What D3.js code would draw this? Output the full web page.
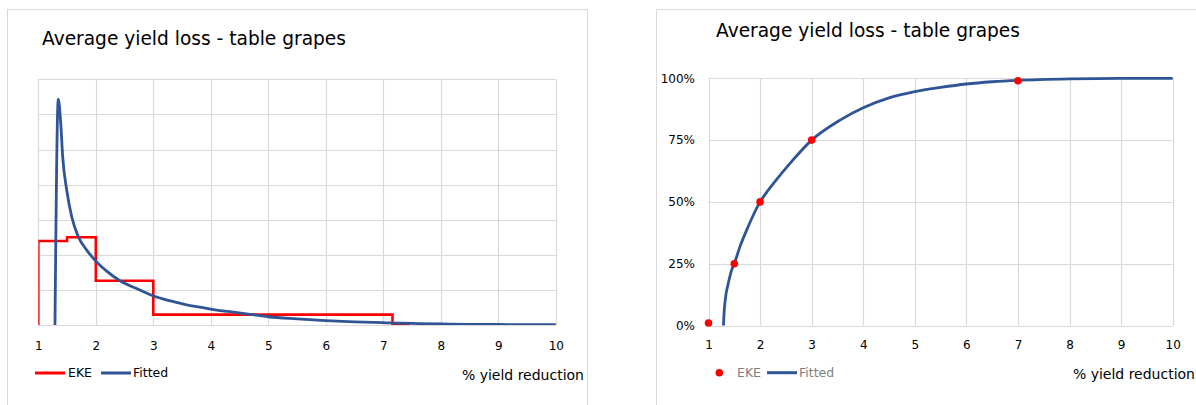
<!DOCTYPE html>
<html>
<head>
<meta charset="utf-8">
<script src="https://cdn.jsdelivr.net/npm/d3@7"></script>
<style>
  html, body { margin: 0; padding: 0; background: #ffffff; }
  svg { display: block; }
  text { font-family: "DejaVu Sans", Verdana, sans-serif; }
</style>
</head>
<body>
<svg id="chart" width="1196" height="405"></svg>
<script>
// ---------- data ----------
const chartTitle = "Average yield loss - table grapes";
const xAxisLabel = "% yield reduction";
const xTicks = [1, 2, 3, 4, 5, 6, 7, 8, 9, 10];

// Left panel: EKE histogram (bin edges and densities)
const ekeEdges = [1, 1.5, 2, 3, 7.16, 7.46];
const ekeDensity = [0.479, 0.5, 0.252, 0.059, 0.0];

// Left panel: fitted density
const densX = [1.29, 1.347, 1.39, 1.424, 1.494, 1.581, 1.696, 1.842, 1.957, 2.2, 2.42, 2.7, 3.0, 3.3, 3.58, 3.81, 4.0, 4.3, 4.68, 5.0, 5.5, 6.0, 6.5, 7.0, 7.5, 8.0, 8.5, 9.0, 9.5, 10.0];
const densY = [0, 1.287, 1.151, 0.959, 0.769, 0.617, 0.503, 0.427, 0.38, 0.304, 0.252, 0.209, 0.165, 0.137, 0.115, 0.102, 0.091, 0.077, 0.061, 0.047, 0.035, 0.025, 0.018, 0.013, 0.009, 0.006, 0.004, 0.003, 0.002, 0.0015];
const densTicks = [0, 0.2, 0.4, 0.6, 0.8, 1.0, 1.2, 1.4];

// Right panel: EKE quantiles
const ekeQx = [1, 1.5, 2, 3, 7];
const ekeQp = [0.01, 0.25, 0.5, 0.75, 0.99];

// Right panel: fitted CDF
const cdfX = [1.29, 1.306, 1.333, 1.384, 1.45, 1.5, 1.61, 1.74, 1.87, 2.0, 2.16, 2.26, 2.58, 3.0, 3.55, 4.0, 4.5, 5.0, 5.5, 6.0, 6.5, 7.0, 8.0, 9.0, 10.0];
const cdfY = [0, 0.063, 0.117, 0.171, 0.225, 0.25, 0.319, 0.386, 0.447, 0.5, 0.548, 0.575, 0.656, 0.75, 0.831, 0.881, 0.921, 0.946, 0.963, 0.977, 0.986, 0.992, 0.998, 1.0, 1.0];
const pctTicks = [0, 0.25, 0.5, 0.75, 1.0];

const legendLabels = ["EKE", "Fitted"];

// ---------- styles ----------
const RED = "#ff0000", BLUE = "#2f5597", GRID = "#d9d9d9", BORDER = "#d9d9d9";
const FONT = '"DejaVu Sans", Verdana, sans-serif';

const svg = d3.select("#chart");

// Panel borders
svg.append("rect").attr("x", 7.5).attr("y", 9.5).attr("width", 580).attr("height", 420)
  .attr("fill", "#fff").attr("stroke", BORDER).attr("stroke-width", 1);
svg.append("rect").attr("x", 656.5).attr("y", 9.5).attr("width", 600).attr("height", 420)
  .attr("fill", "#fff").attr("stroke", BORDER).attr("stroke-width", 1);

// ================= LEFT PANEL =================
{
  const x = d3.scaleLinear().domain([1, 10]).range([38.3, 555.8]);
  const y = d3.scaleLinear().domain([0, 1.4]).range([325, 79.3]);
  const g = svg.append("g");

  g.append("text").attr("x", 42).attr("y", 45).attr("font-size", 18.6).attr("fill", "#000").text(chartTitle);

  // gridlines
  g.append("g").selectAll("line").data(densTicks).join("line")
    .attr("x1", x(1)).attr("x2", x(10)).attr("y1", d => Math.round(y(d)) + 0.5).attr("y2", d => Math.round(y(d)) + 0.5)
    .attr("stroke", GRID).attr("stroke-width", 1.2);
  g.append("g").selectAll("line").data(xTicks).join("line")
    .attr("x1", d => Math.round(x(d)) + 0.5).attr("x2", d => Math.round(x(d)) + 0.5).attr("y1", y(1.4)).attr("y2", y(0))
    .attr("stroke", GRID).attr("stroke-width", 1.2);

  // x axis labels
  const ax = d3.axisBottom(x).tickValues(xTicks).tickSize(0).tickPadding(0).tickFormat(d3.format("d"));
  const axG = g.append("g").attr("transform", `translate(0, ${y(0)})`).call(ax);
  axG.select(".domain").remove();
  axG.selectAll("text").attr("font-size", 12).attr("fill", "#000").attr("dy", null).attr("y", 25)
    .style("font-family", FONT);

  // clip
  const clip = svg.append("defs").append("clipPath").attr("id", "clipL");
  clip.append("rect").attr("x", x(1)).attr("y", y(1.4) - 10).attr("width", x(10) - x(1) + 5).attr("height", y(0) - y(1.4) + 10);

  const plot = g.append("g").attr("clip-path", "url(#clipL)");

  // EKE step line
  const stepPts = [[ekeEdges[0], 0]];
  ekeDensity.forEach((d, i) => { stepPts.push([ekeEdges[i], d]); stepPts.push([ekeEdges[i + 1], d]); });
  const stepLine = d3.line().x(d => x(d[0])).y(d => y(d[1]));
  plot.append("path").attr("d", stepLine(stepPts)).attr("fill", "none")
    .attr("stroke", RED).attr("stroke-width", 2.6).attr("stroke-linejoin", "miter");

  // fitted density
  const dens = densX.map((v, i) => [v, densY[i]]);
  const curve = d3.line().x(d => x(d[0])).y(d => y(d[1])).curve(d3.curveMonotoneX);
  plot.append("path").attr("d", curve(dens)).attr("fill", "none")
    .attr("stroke", BLUE).attr("stroke-width", 2.8).attr("stroke-linejoin", "round");

  // legend
  const ly = 373;
  g.append("line").attr("x1", 35).attr("x2", 65).attr("y1", ly).attr("y2", ly).attr("stroke", RED).attr("stroke-width", 3);
  g.append("text").attr("x", 68).attr("y", ly).attr("dy", "0.35em").attr("font-size", 12.5).attr("fill", "#000").text(legendLabels[0]);
  g.append("line").attr("x1", 101).attr("x2", 131).attr("y1", ly).attr("y2", ly).attr("stroke", BLUE).attr("stroke-width", 3);
  g.append("text").attr("x", 133).attr("y", ly).attr("dy", "0.35em").attr("font-size", 12.5).attr("fill", "#000").text(legendLabels[1]);

  g.append("text").attr("x", 584).attr("y", 375).attr("dy", "0.35em").attr("text-anchor", "end")
    .attr("font-size", 14).attr("fill", "#000").text(xAxisLabel);
}

// ================= RIGHT PANEL =================
{
  const x = d3.scaleLinear().domain([1, 10]).range([708.5, 1172.7]);
  const y = d3.scaleLinear().domain([0, 1]).range([325.5, 78.3]);
  const g = svg.append("g");

  g.append("text").attr("x", 716).attr("y", 37).attr("font-size", 18.6).attr("fill", "#000").text(chartTitle);

  g.append("g").selectAll("line").data(pctTicks).join("line")
    .attr("x1", x(1)).attr("x2", x(10)).attr("y1", d => Math.round(y(d)) + 0.5).attr("y2", d => Math.round(y(d)) + 0.5)
    .attr("stroke", GRID).attr("stroke-width", 1.2);
  g.append("g").selectAll("line").data(xTicks).join("line")
    .attr("x1", d => Math.round(x(d)) + 0.5).attr("x2", d => Math.round(x(d)) + 0.5).attr("y1", y(1)).attr("y2", y(0))
    .attr("stroke", GRID).attr("stroke-width", 1.2);

  const ax = d3.axisBottom(x).tickValues(xTicks).tickSize(0).tickPadding(0).tickFormat(d3.format("d"));
  const axG = g.append("g").attr("transform", `translate(0, ${y(0)})`).call(ax);
  axG.select(".domain").remove();
  axG.selectAll("text").attr("font-size", 12).attr("fill", "#000").attr("dy", null).attr("y", 23)
    .style("font-family", FONT);

  const ay = d3.axisLeft(y).tickValues(pctTicks).tickSize(0).tickPadding(0).tickFormat(d3.format(".0%"));
  const ayG = g.append("g").attr("transform", `translate(695, 0)`).call(ay);
  ayG.select(".domain").remove();
  ayG.selectAll("text").attr("font-size", 12).attr("fill", "#000")
    .style("font-family", FONT);

  const cdf = cdfX.map((v, i) => [v, cdfY[i]]);
  const curve = d3.line().x(d => x(d[0])).y(d => y(d[1])).curve(d3.curveMonotoneX);
  g.append("path").attr("d", curve(cdf)).attr("fill", "none")
    .attr("stroke", BLUE).attr("stroke-width", 2.8).attr("stroke-linejoin", "round");

  g.append("g").selectAll("circle").data(ekeQx.map((v, i) => [v, ekeQp[i]])).join("circle")
    .attr("cx", d => x(d[0])).attr("cy", d => y(d[1])).attr("r", 3.8).attr("fill", RED);

  const ly = 372.7;
  g.append("circle").attr("cx", 719.3).attr("cy", ly).attr("r", 3.8).attr("fill", RED);
  g.append("text").attr("x", 737).attr("y", ly).attr("dy", "0.35em").attr("font-size", 12.5).attr("fill", "#7f7f7f").text(legendLabels[0]);
  g.append("line").attr("x1", 767).attr("x2", 797).attr("y1", ly).attr("y2", ly).attr("stroke", BLUE).attr("stroke-width", 3);
  g.append("text").attr("x", 799).attr("y", ly).attr("dy", "0.35em").attr("font-size", 12.5).attr("fill", "#7f7f7f").text(legendLabels[1]);

  g.append("text").attr("x", 1195).attr("y", 374).attr("dy", "0.35em").attr("text-anchor", "end")
    .attr("font-size", 14).attr("fill", "#000").text(xAxisLabel);
}
</script>
</body>
</html>
